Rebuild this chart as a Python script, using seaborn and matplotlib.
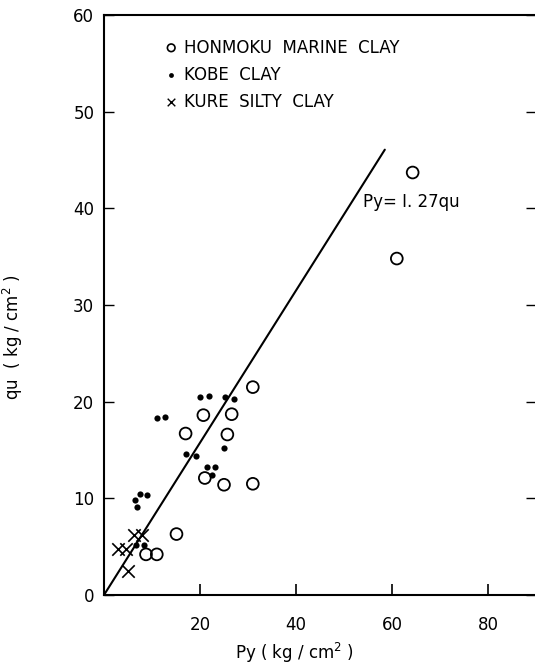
import numpy as np
import pandas as pd
import matplotlib
matplotlib.use("Agg")
import matplotlib.pyplot as plt
import seaborn as sns

# Yield pressure Py vs unconfined compressive strength qu (kg/cm2)
HONMOKU_PY = [20.7, 26.6, 17.0, 25.7, 21.0, 25.0, 15.1, 8.75, 11.0, 31.0, 31.0, 61.0, 64.3]
HONMOKU_QU = [18.6, 18.7, 16.7, 16.6, 12.1, 11.4, 6.3, 4.2, 4.2, 21.5, 11.5, 34.8, 43.7]

KOBE_PY = [20.1, 21.9, 25.2, 27.1, 11.0, 12.8, 25.1, 17.0, 19.2, 21.4, 23.1, 22.6,
           7.4, 9.0, 6.5, 6.8, 6.6, 8.4]
KOBE_QU = [20.5, 20.6, 20.5, 20.3, 18.3, 18.4, 15.2, 14.6, 14.4, 13.2, 13.2, 12.4,
           10.4, 10.3, 9.8, 9.1, 5.2, 5.2]

KURE_PY = [6.3, 8.0, 3.0, 4.6, 4.9]
KURE_QU = [6.2, 6.2, 4.8, 4.8, 2.5]

RATIO = 1.27                # Py = 1.27 qu
LINE_PY = [0.0, 58.5]

X_TICKS = [20, 40, 60, 80]
Y_TICKS = [0, 10, 20, 30, 40, 50, 60]

sns.set_theme(style="white")
plt.rcParams["font.family"] = ["DejaVu Sans"]

fig = plt.figure(figsize=(5.35, 6.67), dpi=100)
ax = fig.add_axes([0.1944, 0.108, 0.8075, 0.8696])

hon = pd.DataFrame({"Py": HONMOKU_PY, "qu": HONMOKU_QU})
kob = pd.DataFrame({"Py": KOBE_PY, "qu": KOBE_QU})
kur = pd.DataFrame({"Py": KURE_PY, "qu": KURE_QU})

sns.scatterplot(data=hon, x="Py", y="qu", ax=ax, marker="o", s=72,
                facecolor="none", edgecolor="black", linewidth=1.3, zorder=3)
sns.scatterplot(data=kob, x="Py", y="qu", ax=ax, marker="o", s=20,
                color="black", edgecolor="black", linewidth=0, zorder=3)
sns.scatterplot(data=kur, x="Py", y="qu", ax=ax, marker="x", s=80,
                color="black", linewidth=1.2, zorder=3)

line = pd.DataFrame({"Py": LINE_PY, "qu": np.array(LINE_PY) / RATIO})
sns.lineplot(data=line, x="Py", y="qu", ax=ax, color="black", linewidth=1.5, zorder=2)

ax.text(54.0, 40.6, "Py= I. 27qu", fontsize=12, ha="left", va="center", color="black")

# legend drawn as marker + caption rows
leg_rows = [("o", "HONMOKU  MARINE  CLAY", dict(s=30, facecolor="none", edgecolor="black", linewidth=1.2)),
            ("o", "KOBE  CLAY", dict(s=12, color="black", linewidth=0)),
            ("x", "KURE  SILTY  CLAY", dict(s=30, color="black", linewidth=1.0))]
for i, (mk, label, kw) in enumerate(leg_rows):
    yy = 56.6 - i * 2.8
    ax.scatter([14.0], [yy], marker=mk, clip_on=False, zorder=3, **kw)
    ax.text(16.6, yy, label, fontsize=12, ha="left", va="center", color="black")

ax.set_xlim(0, 90)
ax.set_ylim(0, 60)
ax.set_xticks(X_TICKS)
ax.set_yticks(Y_TICKS)
ax.set_xticklabels([str(v) for v in X_TICKS], fontsize=12)
ax.set_yticklabels([str(v) for v in Y_TICKS], fontsize=12)
ax.tick_params(axis="x", direction="in", length=8, width=1.2, pad=15, colors="black",
               bottom=True)
ax.tick_params(axis="y", direction="in", length=7, width=1.0, pad=7, colors="black",
               left=True, right=True)

for side in ["left", "bottom", "top"]:
    ax.spines[side].set_visible(True)
    ax.spines[side].set_color("black")
    ax.spines[side].set_linewidth(1.5)
ax.spines["right"].set_visible(False)

ax.set_xlabel("Py ( kg / cm$^2$ )", fontsize=12, color="black")
ax.set_ylabel("qu  ( kg / cm$^2$ )", fontsize=12, color="black")
ax.xaxis.set_label_coords(0.442, -0.079)
ax.yaxis.set_label_coords(-0.183, 0.445)

fig.savefig("out.png", dpi=100, facecolor="white")
